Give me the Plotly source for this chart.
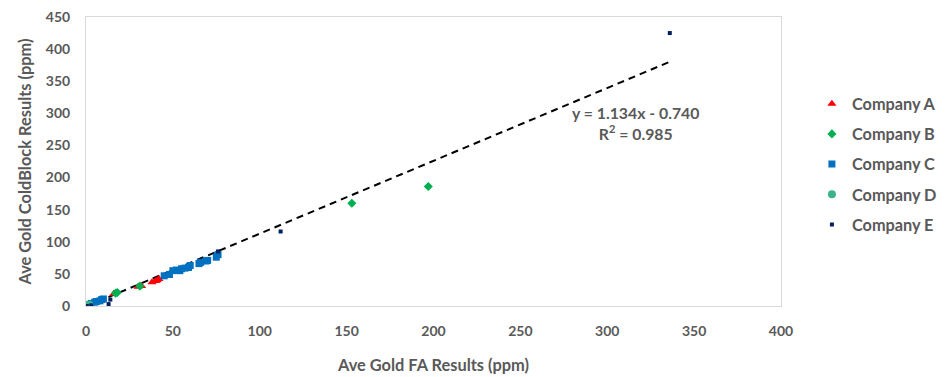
import plotly.graph_objects as go

# ---- data ----
a_x = [16, 30, 32, 38, 40, 41, 42]
a_y = [19, 30, 31, 37, 39, 40, 42]
b_x = [1, 2, 17, 18, 31, 153, 197]
b_y = [1, 2, 20, 21, 31, 160, 186]
c_x = [0.5, 1, 2, 3, 5, 6, 8, 9, 10, 45, 48, 50, 52, 54, 55, 57, 59, 60, 65, 66, 69, 70, 75, 76]
c_y = [0.5, 1, 2, 4, 6, 7, 8, 10, 11, 47, 49, 55, 56, 55, 58, 59, 60, 63, 66, 68, 70, 71, 76, 80]
d_x = [0.2, 0.5, 1, 1.5, 2]
d_y = [0.3, 0.5, 1.2, 1.5, 2]
e_x = [0.5, 3, 13, 14, 76, 112, 336]
e_y = [0, 1, 3, 10, 85, 116, 425]

slope = 1.134
intercept = -0.740
r2 = 0.985

x_ticks = [0, 50, 100, 150, 200, 250, 300, 350, 400]
y_ticks = [0, 50, 100, 150, 200, 250, 300, 350, 400, 450]

FONT = "Lato, 'Open Sans', sans-serif"
GREY = "#595959"

fig = go.Figure()

all_x = a_x + b_x + c_x + d_x + e_x
tx = [min(all_x), max(all_x)]
ty = [slope * v + intercept for v in tx]
fig.add_trace(go.Scatter(x=tx, y=ty, mode="lines", showlegend=False,
                         line=dict(color="black", width=2, dash="7px,5px"), hoverinfo="skip"))

series = [
    ("Company A", a_x, a_y, "triangle-up", "#FF0000", 8),
    ("Company B", b_x, b_y, "diamond", "#00B050", 7),
    ("Company C", c_x, c_y, "square", "#0070C0", 7),
    ("Company D", d_x, d_y, "circle", "#3CB38A", 8),
    ("Company E", e_x, e_y, "square", "#002060", 4),
]
for i, (name, xs, ys, sym, col, sz) in enumerate(series):
    fig.add_trace(go.Scatter(x=xs, y=ys, mode="markers", name=name, legendgroup=name,
                             marker=dict(symbol=sym, color=col, size=sz, line=dict(width=0))))

fig.add_annotation(x=0.79, y=0.633, xref="paper", yref="paper", xanchor="center", yanchor="middle",
                   text=f"y = {slope:.3f}x - {abs(intercept):.3f}<br>R<sup>2</sup> = {r2:.3f}", showarrow=False,
                   font=dict(family=FONT, size=15.8, color=GREY, weight="bold"), align="center")

fig.update_layout(
    width=942, height=369,
    margin=dict(l=78, r=168, t=9, b=71),
    paper_bgcolor="white", plot_bgcolor="white",
    font=dict(family=FONT, size=14, color=GREY, weight="bold"),
    legend=dict(x=1.043, xanchor="left", y=0.491, yanchor="middle",
                font=dict(family=FONT, size=16.3, color=GREY, weight="bold"),
                tracegroupgap=6, bgcolor="rgba(0,0,0,0)"),
    xaxis=dict(range=[0, 400], tickvals=x_ticks, showgrid=False, zeroline=False,
               showline=True, linecolor="#D9D9D9", linewidth=1, mirror=True,
               ticks="", ticklabelstandoff=12, automargin=False, ticklabeloverflow="allow",
               tickfont=dict(family=FONT, size=14, color=GREY, weight="bold"),
               title=dict(text="Ave Gold FA Results (ppm)", standoff=21,
                          font=dict(family=FONT, size=16.4, color=GREY, weight="bold"))),
    yaxis=dict(range=[0, 450], tickvals=y_ticks, showgrid=False, zeroline=False,
               showline=True, linecolor="#D9D9D9", linewidth=1, mirror=True,
               ticks="", ticklabelstandoff=12, automargin=False, ticklabeloverflow="allow",
               tickfont=dict(family=FONT, size=14, color=GREY, weight="bold"),
               title=dict(text="Ave Gold ColdBlock Results (ppm)", standoff=10,
                          font=dict(family=FONT, size=16.4, color=GREY, weight="bold"))),
)

fig.write_html("out.html")
